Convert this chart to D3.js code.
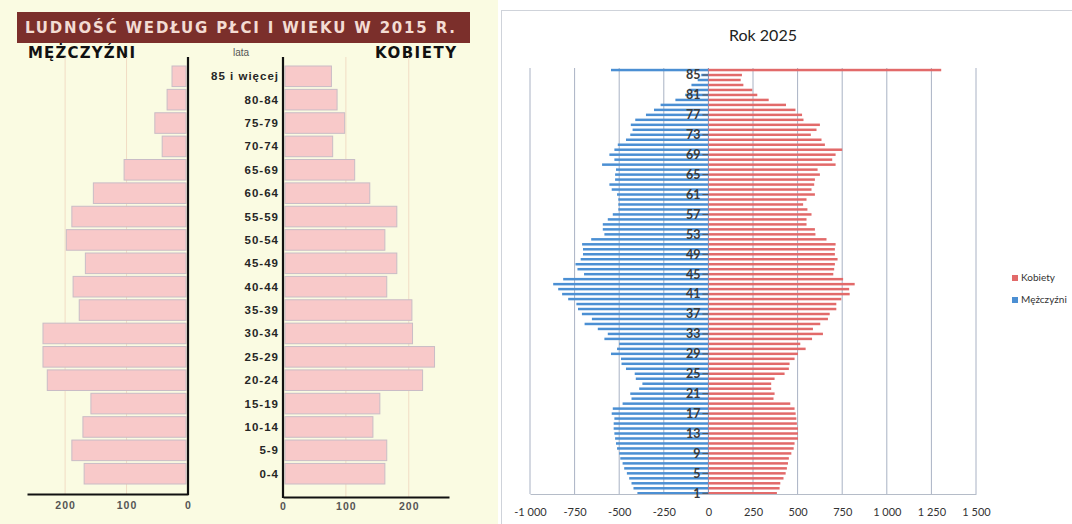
<!DOCTYPE html>
<html lang="pl">

<head>
  <meta charset="UTF-8">
  <title>Ludność według płci i wieku</title>
  <script src="https://d3js.org/d3.v7.min.js"></script>
  <style>
    body {
      margin: 0;
      background: #fff;
    }

    .lbl2015 {
      font: bold 11.5px "Liberation Sans", Arial, sans-serif;
      fill: #262626;
      letter-spacing: 1px;
    }

    .axis2015 text {
      font: bold 10.5px "Liberation Sans", Arial, sans-serif;
      fill: #555;
      letter-spacing: 1px;
    }

    .axis2025 text {
      font: 11px "Lato", "Open Sans", sans-serif;
      fill: #333;
    }

    .cat2025 {
      font: bold 12.5px "Lato", "Open Sans", sans-serif;
      fill: #3a3a3a;
    }

    .head2015 {
      font-family: "DejaVu Sans", Verdana, sans-serif;
      font-weight: bold;
      font-size: 15px;
    }
  </style>
</head>

<body>
  <div id="chart"></div>

  <script>
    // ---- data: 2015 (age groups, thousands) ----
    var ages2015 = ["0-4", "5-9", "10-14", "15-19", "20-24", "25-29", "30-34", "35-39", "40-44",
      "45-49", "50-54", "55-59", "60-64", "65-69", "70-74", "75-79", "80-84", "85 i więcej"];
    var men2015 = [169, 189, 171, 158, 229, 236, 236, 177, 187, 167, 198, 189, 154, 104, 42, 54, 34, 26];
    var women2015 = [162, 165, 143, 154, 222, 241, 206, 205, 165, 181, 162, 181, 138, 114, 79, 98, 86, 77];
    var ticks2015 = [0, 100, 200];

    // ---- data: 2025 (single years) ----
    var ages2025 = d3.range(1, 87);
    var men2025 = [398, 420, 431, 444, 457, 472, 481, 494, 500, 512,
      518, 523, 527, 531, 531, 527, 542, 536, 481, 431,
      438, 388, 370, 407, 413, 462, 487, 490, 546, 512,
      500, 583, 564, 620, 694, 653, 709, 731, 740, 786,
      820, 842, 870, 814, 697, 734, 745, 716, 703, 703,
      708, 657, 583, 592, 592, 564, 536, 505, 505, 505,
      512, 542, 555, 523, 523, 518, 596, 527, 555, 527,
      508, 462, 438, 425, 435, 410, 350, 305, 268, 185,
      130, 110, 95, 60, 40, 546];
    var women2025 = [384, 399, 403, 421, 433, 440, 446, 451, 465, 478,
      483, 502, 502, 502, 496, 493, 489, 483, 459, 365,
      371, 352, 352, 371, 427, 451, 455, 483, 502, 545,
      515, 581, 642, 586, 627, 670, 680, 717, 717, 745,
      792, 789, 820, 755, 700, 705, 709, 724, 709, 709,
      713, 662, 600, 597, 550, 550, 578, 555, 531, 550,
      597, 578, 593, 597, 625, 612, 713, 694, 713, 750,
      653, 634, 574, 606, 625, 533, 525, 488, 435, 338,
      274, 246, 196, 181, 188, 1305];
    var ticks2025 = [-1000, -750, -500, -250, 0, 250, 500, 750, 1000, 1250, 1500];
    var series2025 = ["Kobiety", "Mężczyźni"];

    var svg = d3.select("#chart").append("svg")
      .attr("width", 1072)
      .attr("height", 524);

    // ****************** left chart (2015) ******************
    var left = svg.append("g");

    left.append("rect")
      .attr("x", 0).attr("y", 0)
      .attr("width", 498).attr("height", 524)
      .attr("fill", "#fafbe2");

    // title banner
    left.append("rect")
      .attr("x", 17).attr("y", 12)
      .attr("width", 453).attr("height", 31)
      .attr("fill", "#7b2f2b");
    left.append("text")
      .attr("class", "head2015")
      .attr("x", 25).attr("y", 33)
      .attr("textLength", 430)
      .attr("lengthAdjust", "spacing")
      .attr("fill", "#f3dcd3")
      .text("LUDNOŚĆ WEDŁUG PŁCI I WIEKU  W 2015 R.");

    left.append("text")
      .attr("class", "head2015")
      .attr("x", 28).attr("y", 58)
      .attr("textLength", 107)
      .attr("lengthAdjust", "spacing")
      .attr("fill", "#111")
      .text("MĘŻCZYŹNI");
    left.append("text")
      .attr("class", "head2015")
      .attr("x", 375).attr("y", 58)
      .attr("textLength", 81)
      .attr("lengthAdjust", "spacing")
      .attr("fill", "#111")
      .text("KOBIETY");
    left.append("text")
      .attr("x", 241).attr("y", 56)
      .attr("text-anchor", "middle")
      .style("font", "10px 'Liberation Sans', Arial, sans-serif")
      .attr("fill", "#555")
      .text("lata");

    var yL = d3.scaleBand()
      .domain(ages2015.slice().reverse())
      .range([66, 484])
      .paddingInner(0.12);

    var xM = d3.scaleLinear().domain([0, 262]).range([188, 27]);
    var xF = d3.scaleLinear().domain([0, 264]).range([283, 449]);

    // gridlines
    left.selectAll("line.gm")
      .data(ticks2015.slice(1))
      .enter().append("line")
      .attr("x1", function (d) { return xM(d); })
      .attr("x2", function (d) { return xM(d); })
      .attr("y1", 57).attr("y2", 494)
      .attr("stroke", "#f1dcc4");
    left.selectAll("line.gf")
      .data(ticks2015.slice(1))
      .enter().append("line")
      .attr("x1", function (d) { return xF(d); })
      .attr("x2", function (d) { return xF(d); })
      .attr("y1", 57).attr("y2", 497)
      .attr("stroke", "#f1dcc4");

    // bars
    left.selectAll("rect.m")
      .data(men2015)
      .enter().append("rect")
      .attr("x", function (d) { return xM(d); })
      .attr("y", function (d, i) { return yL(ages2015[i]); })
      .attr("width", function (d) { return xM(0) - xM(d) - 2; })
      .attr("height", yL.bandwidth())
      .attr("fill", "#f8c9c9")
      .attr("stroke", "#c9bcc6")
      .attr("stroke-width", 1);

    left.selectAll("rect.f")
      .data(women2015)
      .enter().append("rect")
      .attr("x", xF(0) + 2)
      .attr("y", function (d, i) { return yL(ages2015[i]); })
      .attr("width", function (d) { return xF(d) - xF(0) - 2; })
      .attr("height", yL.bandwidth())
      .attr("fill", "#f8c9c9")
      .attr("stroke", "#c9bcc6")
      .attr("stroke-width", 1);

    // age labels
    left.selectAll("text.age")
      .data(ages2015)
      .enter().append("text")
      .attr("class", "lbl2015")
      .attr("x", 279)
      .attr("y", function (d) { return yL(d) + yL.bandwidth() / 2; })
      .attr("dy", "0.35em")
      .attr("text-anchor", "end")
      .text(function (d) { return d; });

    // axes
    left.append("g")
      .attr("class", "axis2015")
      .attr("transform", "translate(0,494)")
      .call(d3.axisBottom(xM).tickValues(ticks2015).tickSize(0).tickPadding(8));
    left.append("g")
      .attr("class", "axis2015")
      .attr("transform", "translate(0,497)")
      .call(d3.axisBottom(xF).tickValues(ticks2015).tickSize(0).tickPadding(6));
    left.selectAll(".axis2015 .domain")
      .attr("stroke", "#111")
      .attr("stroke-width", 2);

    left.append("line")
      .attr("x1", xM(0)).attr("x2", xM(0))
      .attr("y1", 57).attr("y2", 495)
      .attr("stroke", "#111").attr("stroke-width", 2.2);
    left.append("line")
      .attr("x1", xF(0)).attr("x2", xF(0))
      .attr("y1", 57).attr("y2", 498)
      .attr("stroke", "#111").attr("stroke-width", 2.2);

    // ****************** right chart (2025) ******************
    var right = svg.append("g");

    right.append("rect")
      .attr("x", 501.5).attr("y", 10.5)
      .attr("width", 580).attr("height", 520)
      .attr("fill", "#fff")
      .attr("stroke", "#cfd3da");

    right.append("text")
      .attr("x", 763).attr("y", 41)
      .attr("text-anchor", "middle")
      .style("font", "16px 'Lato', 'Open Sans', sans-serif")
      .attr("fill", "#222")
      .text("Rok 2025");

    var x = d3.scaleLinear().domain([-1000, 1500]).range([530, 976]);
    var y = d3.scaleBand()
      .domain(ages2025.slice().reverse())
      .range([68.8, 494.5])
      .paddingInner(0.5);

    // gridlines
    right.selectAll("line.grid")
      .data(ticks2025)
      .enter().append("line")
      .attr("x1", function (d) { return x(d); })
      .attr("x2", function (d) { return x(d); })
      .attr("y1", 68).attr("y2", 494)
      .attr("stroke", function (d) { return d === 0 ? "#7f8fb0" : "#a9b2c4"; })
      .attr("stroke-width", 1);

    // bars
    right.selectAll("rect.m")
      .data(men2025)
      .enter().append("rect")
      .attr("x", function (d) { return x(-d); })
      .attr("y", function (d, i) { return y(ages2025[i]); })
      .attr("width", function (d) { return x(0) - x(-d); })
      .attr("height", y.bandwidth())
      .attr("fill", "#4b8fd3");

    right.selectAll("rect.f")
      .data(women2025)
      .enter().append("rect")
      .attr("x", x(0))
      .attr("y", function (d, i) { return y(ages2025[i]); })
      .attr("width", function (d) { return x(d) - x(0); })
      .attr("height", y.bandwidth())
      .attr("fill", "#e26a6a");

    // x axis
    var loc = d3.formatLocale({ decimal: ",", thousands: " ", grouping: [3], currency: ["", " zł"], minus: "-" });
    right.append("g")
      .attr("class", "axis2025")
      .attr("transform", "translate(0,494)")
      .call(d3.axisBottom(x).tickValues(ticks2025).tickSize(0).tickPadding(14)
        .tickFormat(loc.format(",")))
      .select(".domain").attr("stroke", "#b5bcc8");

    // category axis
    var labelled = ages2025.filter(function (d) { return (d - 1) % 4 === 0; });
    right.selectAll("line.ctick")
      .data(labelled)
      .enter().append("line")
      .attr("x1", x(0) - 6).attr("x2", x(0))
      .attr("y1", function (d) { return y(d) + y.bandwidth() / 2; })
      .attr("y2", function (d) { return y(d) + y.bandwidth() / 2; })
      .attr("stroke", "#555");
    right.selectAll("text.cat")
      .data(labelled)
      .enter().append("text")
      .attr("class", "cat2025")
      .attr("x", x(0) - 8)
      .attr("y", function (d) { return y(d) + y.bandwidth() / 2; })
      .attr("dy", "0.35em")
      .attr("text-anchor", "end")
      .text(function (d) { return d; });

    // legend
    var legend = right.selectAll("g.leg")
      .data(series2025)
      .enter().append("g")
      .attr("transform", function (d, i) { return "translate(1012," + (275 + i * 22) + ")"; });
    legend.append("rect")
      .attr("width", 6).attr("height", 6)
      .attr("fill", function (d) { return d === "Kobiety" ? "#e26a6a" : "#4b8fd3"; });
    legend.append("text")
      .attr("x", 9).attr("y", 6)
      .style("font", "10px 'Lato', 'Open Sans', sans-serif")
      .attr("fill", "#333")
      .text(function (d) { return d; });
  </script>
</body>

</html>
